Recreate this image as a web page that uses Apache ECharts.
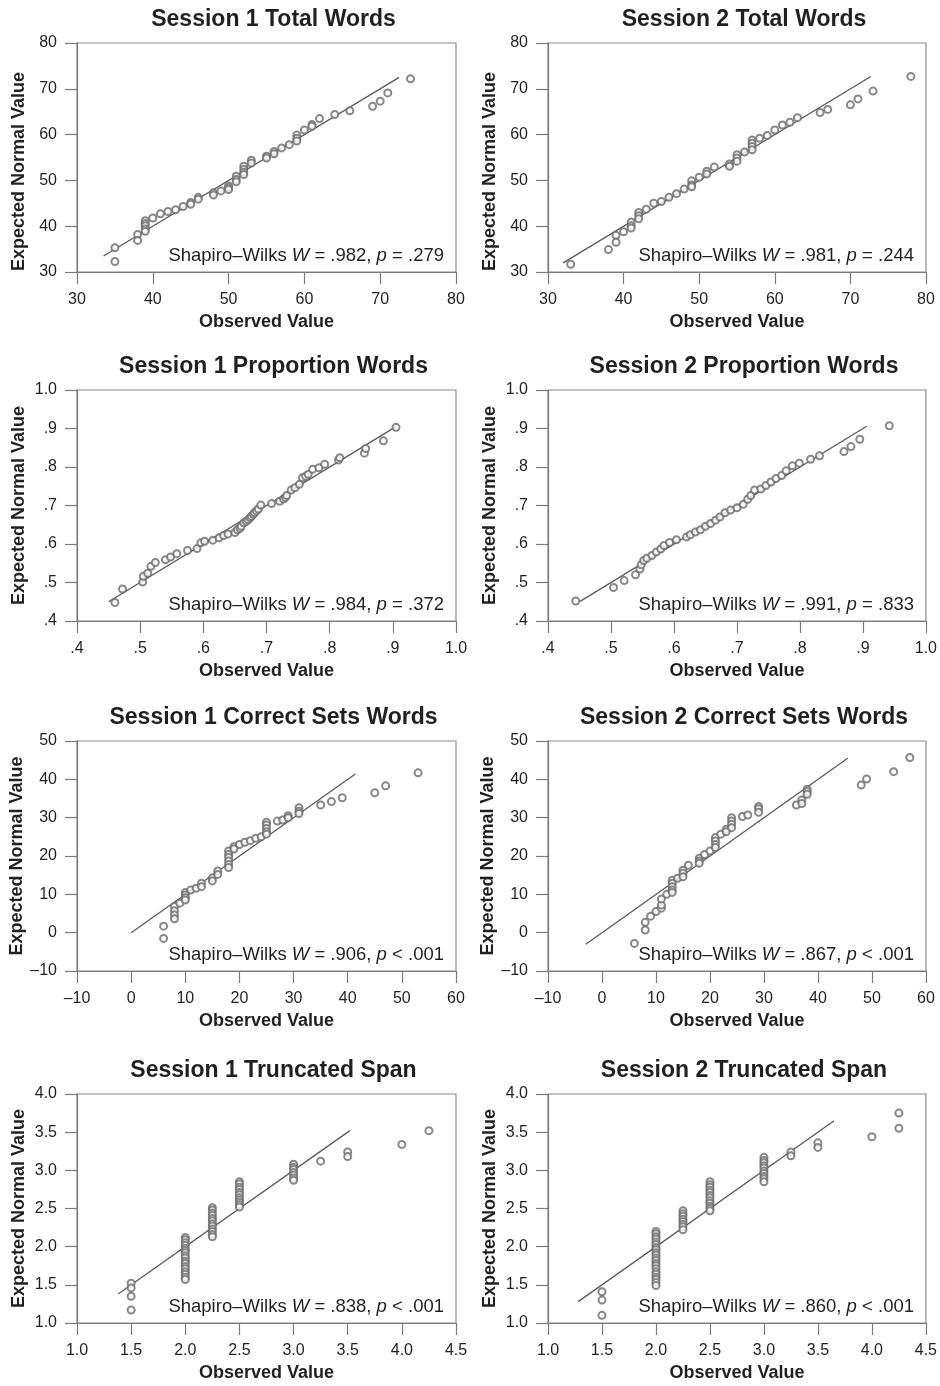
<!DOCTYPE html>
<html>
<head>
<meta charset="utf-8">
<title>Q-Q plots</title>
<script src="https://cdn.jsdelivr.net/npm/echarts@6/dist/echarts.min.js"></script>
<style>
html, body { margin: 0; padding: 0; background: #fff; }
#main { width: 940px; height: 1386px; }
</style>
</head>
<body>
<div id="main"></div>
<script>
var s1Total = [[35,35.3],[35,32.3],[38,38.2],[38,36.9],[39,41.2],[39,40.6],[39,40.1],[39,39.4],[39,38.9],[40,41.8],[41,42.7],[42,43.2],[43,43.6],[44,44.3],[45,45.2],[45,44.8],[46,46.3],[46,45.9],[48,47.3],[48,46.8],[49,47.7],[50,48.8],[50,48.4],[50,48.0],[51,50.9],[51,50.2],[51,49.7],[52,53.1],[52,52.4],[52,51.8],[52,51.3],[53,54.4],[53,53.8],[55,55.3],[55,54.9],[56,56.3],[56,55.8],[57,57.1],[58,57.8],[59,59.9],[59,59.2],[59,58.6],[60,61.0],[61,62.2],[61,61.8],[62,63.5],[64,64.4],[66,65.2],[69,66.2],[70,67.3],[71,69.1],[74,72.2]];
var s2Total = [[33,31.7],[38,34.9],[39,38.0],[39,36.5],[40,38.8],[41,40.9],[41,40.1],[41,39.6],[42,43.0],[42,42.3],[42,41.6],[43,43.7],[44,45.0],[45,45.4],[46,46.3],[47,47.1],[48,48.1],[49,49.9],[49,49.0],[49,48.6],[50,50.7],[51,52.0],[51,51.4],[52,52.9],[54,53.6],[54,53.1],[55,55.6],[55,54.9],[55,54.2],[56,56.2],[57,58.8],[57,58.1],[57,57.4],[57,56.7],[58,59.2],[59,59.8],[60,61.0],[61,62.1],[62,62.7],[63,63.7],[66,64.8],[67,65.5],[70,66.5],[71,67.8],[73,69.5],[78,72.7]];
var s1Prop = [[0.460,0.448],[0.472,0.483],[0.504,0.501],[0.505,0.516],[0.512,0.524],[0.517,0.542],[0.524,0.552],[0.540,0.559],[0.548,0.566],[0.558,0.575],[0.575,0.583],[0.590,0.588],[0.596,0.603],[0.602,0.607],[0.615,0.610],[0.625,0.616],[0.632,0.622],[0.639,0.626],[0.650,0.630],[0.654,0.637],[0.658,0.641],[0.660,0.646],[0.664,0.655],[0.668,0.659],[0.671,0.663],[0.674,0.668],[0.676,0.672],[0.679,0.677],[0.681,0.681],[0.684,0.686],[0.687,0.691],[0.691,0.701],[0.708,0.705],[0.721,0.711],[0.727,0.717],[0.730,0.721],[0.732,0.726],[0.739,0.740],[0.745,0.746],[0.752,0.755],[0.757,0.772],[0.762,0.776],[0.766,0.781],[0.773,0.794],[0.783,0.798],[0.792,0.807],[0.814,0.818],[0.816,0.824],[0.855,0.836],[0.857,0.848],[0.885,0.868],[0.905,0.903]];
var s2Prop = [[0.444,0.452],[0.504,0.487],[0.521,0.505],[0.539,0.520],[0.546,0.535],[0.548,0.546],[0.552,0.557],[0.557,0.563],[0.565,0.570],[0.572,0.579],[0.579,0.587],[0.584,0.596],[0.593,0.604],[0.604,0.611],[0.620,0.618],[0.626,0.624],[0.634,0.631],[0.642,0.637],[0.650,0.646],[0.658,0.653],[0.666,0.662],[0.673,0.670],[0.681,0.681],[0.690,0.688],[0.700,0.694],[0.710,0.703],[0.717,0.716],[0.722,0.726],[0.728,0.740],[0.738,0.743],[0.746,0.752],[0.754,0.761],[0.762,0.770],[0.771,0.778],[0.778,0.790],[0.788,0.803],[0.799,0.810],[0.817,0.820],[0.831,0.829],[0.870,0.840],[0.881,0.853],[0.895,0.872],[0.942,0.907]];
var s1Sets = [[6,1.7],[6,-1.5],[8,6.8],[8,5.7],[8,4.6],[8,3.6],[9,7.7],[10,10.5],[10,9.8],[10,9.1],[10,8.5],[11,11.1],[12,11.6],[13,12.9],[13,12.0],[15,14.3],[15,13.5],[16,16.1],[16,15.2],[18,21.3],[18,20.4],[18,19.6],[18,18.7],[18,17.8],[18,17.0],[19,22.4],[19,21.8],[20,23.0],[21,23.6],[22,24.0],[23,24.6],[24,25.0],[25,28.8],[25,28.1],[25,27.2],[25,26.3],[25,25.7],[27,29.1],[28,29.4],[29,30.5],[29,30.0],[31,32.6],[31,31.7],[31,31.1],[35,33.3],[37,34.2],[39,35.2],[45,36.5],[47,38.3],[53,41.7]];
var s2Sets = [[6,-2.8],[8,2.7],[8,0.7],[9,4.3],[10,5.5],[11,6.4],[11,7.2],[11,8.8],[12,10.0],[13,13.7],[13,12.9],[13,12.0],[13,11.1],[13,10.5],[14,14.2],[15,16.3],[15,15.5],[15,14.6],[16,17.6],[18,19.4],[18,18.7],[18,18.1],[19,20.4],[20,21.3],[21,24.8],[21,23.9],[21,23.0],[21,22.2],[22,25.7],[23,27.0],[23,26.3],[24,30.0],[24,29.1],[24,28.3],[24,27.4],[26,30.3],[27,30.7],[29,32.9],[29,32.3],[29,31.4],[36,33.3],[37,34.6],[37,33.7],[38,37.4],[38,36.8],[38,36.1],[48,38.5],[49,40.1],[54,42.0],[57,45.7]];
var s1Span = [[1.5,1.52],[1.5,1.46],[1.5,1.35],[1.5,1.17],
  [2,2.12],[2,2.09],[2,2.05],[2,2.02],[2,1.98],[2,1.95],[2,1.92],[2,1.88],[2,1.85],[2,1.81],[2,1.78],[2,1.74],[2,1.71],[2,1.67],[2,1.64],[2,1.60],[2,1.57],
  [2.25,2.51],[2.25,2.48],[2.25,2.44],[2.25,2.41],[2.25,2.37],[2.25,2.34],[2.25,2.30],[2.25,2.27],[2.25,2.23],[2.25,2.20],[2.25,2.16],[2.25,2.13],
  [2.5,2.85],[2.5,2.82],[2.5,2.78],[2.5,2.75],[2.5,2.71],[2.5,2.68],[2.5,2.64],[2.5,2.61],[2.5,2.58],[2.5,2.55],[2.5,2.52],
  [3,3.08],[3,3.04],[3,3.01],[3,2.97],[3,2.94],[3,2.90],[3,2.87],
  [3.25,3.12],[3.5,3.24],[3.5,3.18],[4,3.34],[4.25,3.52]];
var s2Span = [[1.5,1.41],[1.5,1.30],[1.5,1.10],
  [2,2.20],[2,2.17],[2,2.13],[2,2.10],[2,2.06],[2,2.03],[2,1.99],[2,1.96],[2,1.92],[2,1.89],[2,1.85],[2,1.82],[2,1.78],[2,1.75],[2,1.71],[2,1.67],[2,1.64],[2,1.60],[2,1.57],[2,1.53],[2,1.49],
  [2.25,2.47],[2.25,2.43],[2.25,2.40],[2.25,2.36],[2.25,2.33],[2.25,2.29],[2.25,2.26],[2.25,2.22],
  [2.5,2.85],[2.5,2.81],[2.5,2.78],[2.5,2.74],[2.5,2.71],[2.5,2.67],[2.5,2.64],[2.5,2.60],[2.5,2.57],[2.5,2.53],[2.5,2.50],[2.5,2.47],
  [3,3.17],[3,3.13],[3,3.10],[3,3.06],[3,3.03],[3,2.99],[3,2.96],[3,2.92],[3,2.89],[3,2.85],
  [3.25,3.24],[3.25,3.19],[3.5,3.36],[3.5,3.30],[4,3.44],[4.25,3.75],[4.25,3.55]];

// ends of the y = x reference line in each panel
var refLines = [[33.5, 72.5], [32, 72.7], [0.45, 0.905], [0.451, 0.906], [0, 41.4], [-3, 45.5], [1.38, 3.52], [1.28, 3.65]];

// tick labels
var totalTicks = [30, 40, 50, 60, 70, 80];
var propTicks = [0.4, 0.5, 0.6, 0.7, 0.8, 0.9, 1.0];
var setsXTicks = [-10, 0, 10, 20, 30, 40, 50, 60];
var setsYTicks = [-10, 0, 10, 20, 30, 40, 50];
var spanXTicks = [1.0, 1.5, 2.0, 2.5, 3.0, 3.5, 4.0, 4.5];
var spanYTicks = [1.0, 1.5, 2.0, 2.5, 3.0, 3.5, 4.0];

var titles = ['Session 1 Total Words', 'Session 2 Total Words',
  'Session 1 Proportion Words', 'Session 2 Proportion Words',
  'Session 1 Correct Sets Words', 'Session 2 Correct Sets Words',
  'Session 1 Truncated Span', 'Session 2 Truncated Span'];
var statW = ['.982', '.981', '.984', '.991', '.906', '.867', '.838', '.860'];
var statP = ['= .279', '= .244', '= .372', '= .833', '< .001', '< .001', '< .001', '< .001'];

var FONT = '"Liberation Sans", Arial, Helvetica, sans-serif';
var TXT = '#231f20';
var GREY = '#7a7a7a';

function fmtProp(v) {
  return v >= 1 ? '1.0' : v.toFixed(1).replace(/^0/, '');
}
function fmtDash(v) {
  return v < 0 ? '\u2013' + Math.abs(v) : String(v);
}
function fmtOne(v) {
  return v.toFixed(1);
}

var rows = [
  { top: 43, h: 229, x: totalTicks, y: totalTicks, fmt: null, data: [s1Total, s2Total] },
  { top: 390, h: 231, x: propTicks, y: propTicks, fmt: fmtProp, data: [s1Prop, s2Prop] },
  { top: 741, h: 230, x: setsXTicks, y: setsYTicks, fmt: fmtDash, data: [s1Sets, s2Sets] },
  { top: 1094, h: 229, x: spanXTicks, y: spanYTicks, fmt: fmtOne, data: [s1Span, s2Span] }
];
var cols = [{ left: 77, w: 379 }, { left: 548, w: 378 }];

function axis(ticks, fmt, name, gap, extra) {
  var a = {
    type: 'value',
    min: ticks[0],
    max: ticks[ticks.length - 1],
    interval: Math.round((ticks[1] - ticks[0]) * 1000) / 1000,
    name: name,
    nameLocation: 'middle',
    nameGap: gap,
    nameTextStyle: { color: TXT, fontSize: 18, fontWeight: 'bold', fontFamily: FONT },
    axisLine: { show: true, onZero: false, lineStyle: { color: GREY, width: 1.2 } },
    axisTick: { show: true, length: 12, lineStyle: { color: GREY, width: 1.2 } },
    axisLabel: { color: TXT, fontSize: 16, margin: 20, fontFamily: FONT },
    splitLine: { show: false }
  };
  if (fmt) a.axisLabel.formatter = fmt;
  if (extra) echarts.util.merge(a, extra, true);
  return a;
}

var grids = [], xAxes = [], yAxes = [], series = [], titleList = [];

for (var i = 0; i < 8; i++) {
  var r = rows[Math.floor(i / 2)];
  var c = cols[i % 2];
  var bottom = r.top + r.h;
  grids.push({
    left: c.left, top: r.top, width: c.w, height: r.h,
    show: true, borderColor: '#8a8a8a', borderWidth: 1.2, backgroundColor: 'transparent'
  });
  xAxes.push(axis(r.x, r.fmt, 'Observed Value', 41, { gridIndex: i }));
  var yExtra = { gridIndex: i };
  if (i < 2) yExtra.nameTextStyle = { padding: [0, 28, 0, 0] };
  yAxes.push(axis(r.y, r.fmt, 'Expected Normal Value', 49, yExtra));

  var ends = refLines[i];
  series.push({
    type: 'line', xAxisIndex: i, yAxisIndex: i,
    data: [[ends[0], ends[0]], [ends[1], ends[1]]],
    symbol: 'none', silent: true, z: 2,
    lineStyle: { color: '#5a5a5a', width: 1.3 }
  });
  series.push({
    type: 'scatter', xAxisIndex: i, yAxisIndex: i,
    data: r.data[i % 2],
    symbol: 'emptyCircle', symbolSize: 7, z: 3,
    itemStyle: { color: '#6a6a6a', borderColor: '#6a6a6a', borderWidth: 1.2 }
  });

  titleList.push({
    text: titles[i],
    left: c.left + c.w / 2 + 2,
    top: r.top - 40,
    textAlign: 'center',
    textStyle: { color: TXT, fontSize: 23, fontWeight: 'bold', fontFamily: FONT }
  });
  titleList.push({
    text: 'Shapiro\u2013Wilks {i|W} = ' + statW[i] + ', {i|p} ' + statP[i],
    left: c.left + c.w - 17,
    top: bottom - 31,
    textAlign: 'right',
    textStyle: {
      color: TXT, fontSize: 18.5, fontWeight: 'normal', fontFamily: FONT,
      rich: { i: { fontStyle: 'italic', fontSize: 18.5, color: TXT, fontFamily: FONT } }
    }
  });
}

var chart = echarts.init(document.getElementById('main'));
chart.setOption({
  animation: false,
  backgroundColor: '#fff',
  title: titleList,
  grid: grids,
  xAxis: xAxes,
  yAxis: yAxes,
  series: series
});
</script>
</body>
</html>
